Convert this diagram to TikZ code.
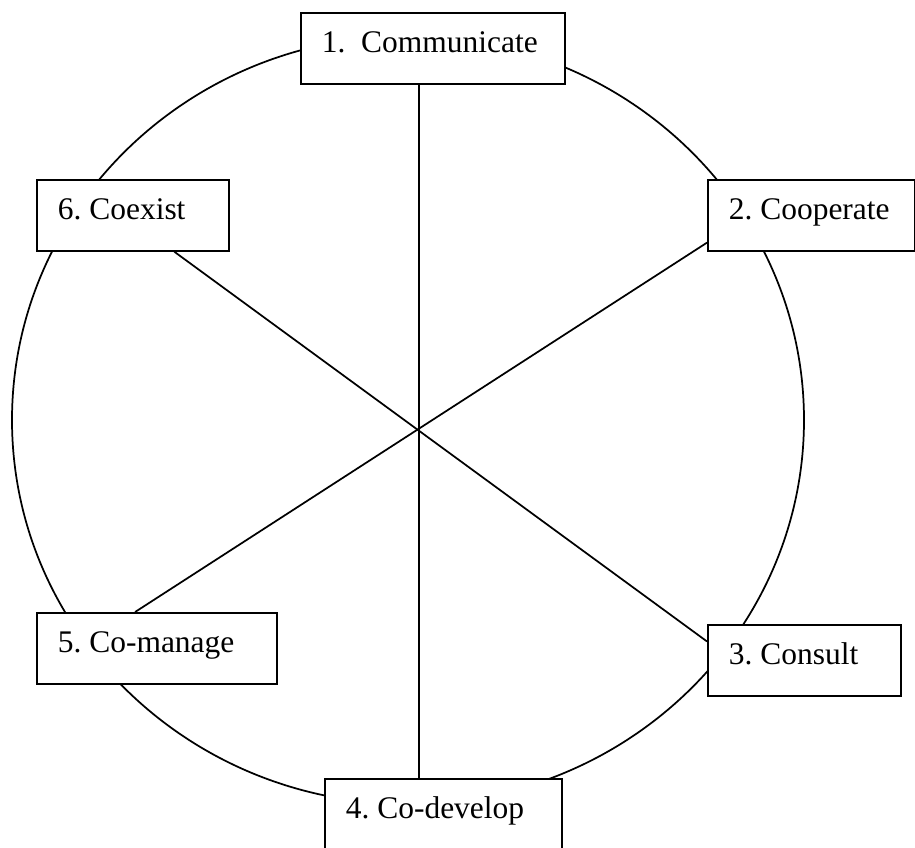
\documentclass[tikz,border=0pt]{standalone}
\usepackage{fontspec}
\setmainfont{Liberation Serif}
\usetikzlibrary{calc}
\begin{document}
\frenchspacing
\begin{tikzpicture}[x=0.75pt,y=-0.75pt,
  lbl/.style={draw, fill=white, line width=1.3pt, anchor=north west,
    inner xsep=15.75pt, inner ysep=0pt, text height=30pt, text depth=23.25pt,
    minimum width=#1, font=\rmfamily\fontsize{23.6pt}{28pt}\selectfont},
  conn/.style={line width=1.3pt}]
\useasboundingbox (0,0) rectangle (915,848);
\draw[conn] (408,420) ellipse [x radius=297pt, y radius=288pt];
\node[lbl=198pt] (b1) at (300,12) {\makebox[166.5pt][l]{1.\ \ Communicate}};
\node[lbl=155.25pt] (b2) at (707,179) {\makebox[123.75pt][l]{2. Cooperate}};
\node[lbl=144.75pt] (b3) at (707,624) {\makebox[113.25pt][l]{3. Consult}};
\node[lbl=177.75pt] (b4) at (324,778) {\makebox[146.25pt][l]{4. Co-develop}};
\node[lbl=180pt] (b5) at (36,612) {\makebox[148.5pt][l]{5. Co-manage}};
\node[lbl=144pt] (b6) at (36,179) {\makebox[112.5pt][l]{6. Coexist}};
\coordinate (c) at (419,430);
\draw[conn] (b1.south -| c) -- (b4.north -| c);
\draw[conn] ($(b6.south west)!0.714!(b6.south east)$) -- ($(b3.north west)!0.24!(b3.south west)$);
\draw[conn] ($(b2.north west)!0.875!(b2.south west)$) -- ($(b5.north west)!0.41!(b5.north east)$);
\end{tikzpicture}
\end{document}
